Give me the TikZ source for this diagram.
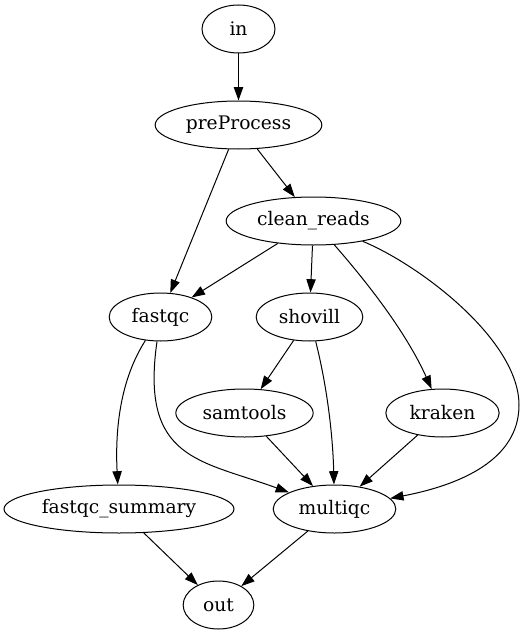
\documentclass[tikz,border=0pt]{standalone}
\usepackage{fontspec}
\setmainfont{DejaVu Serif}
\usetikzlibrary{arrows.meta,shapes.geometric}
\begin{document}
\begin{tikzpicture}[x=0.75pt,y=-0.75pt,
  nd/.style={draw,ellipse,inner sep=0pt,line width=0.75pt,minimum height=36pt,font=\fontsize{14}{16}\selectfont},
  edge/.style={draw,line width=0.75pt,-{Triangle[length=10pt,width=7pt]}}]
\useasboundingbox (0,0) rectangle (529,635);
\node[nd,minimum width=54.75pt] (in) at (238.5,29) {in};
\node[nd,minimum width=125pt] (pp) at (238.5,125) {preProcess};
\node[nd,minimum width=131pt] (cr) at (313.5,221) {clean\_reads};
\node[nd,minimum width=77pt] (fq) at (160.5,317) {fastqc};
\node[nd,minimum width=80pt] (sh) at (309.5,317) {shovill};
\node[nd,minimum width=103pt] (st) at (244.5,413) {samtools};
\node[nd,minimum width=85pt] (kr) at (442.5,413) {kraken};
\node[nd,minimum width=172.5pt] (fs) at (119,509) {fastqc\_summary};
\node[nd,minimum width=92pt] (mq) at (334.5,509) {multiqc};
\node[nd,minimum width=53pt] (out) at (218.5,605) {out};

\path[edge] (in) -- (pp);
\path[edge] (pp) -- (cr);
\path[edge] (pp) -- (fq);
\path[edge] (cr) -- (fq);
\path[edge] (cr) -- (sh);
\path[edge] (cr) .. controls (365,280) and (405,330) .. (kr);
\path[edge] (cr) .. controls (420,265) and (519,340) .. (519,405) .. controls (519,460) and (460,485) .. (mq);
\path[edge] (fq) .. controls (120,380) and (115,430) .. (fs);
\path[edge] (fq) .. controls (140,460) and (200,460) .. (mq);
\path[edge] (sh) -- (st);
\path[edge] (sh) .. controls (328,390) and (333,440) .. (mq);
\path[edge] (st) -- (mq);
\path[edge] (kr) -- (mq);
\path[edge] (fs) -- (out);
\path[edge] (mq) -- (out);
\end{tikzpicture}
\end{document}
